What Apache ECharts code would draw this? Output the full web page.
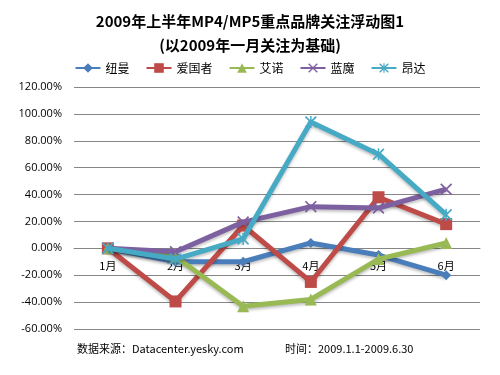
<!DOCTYPE html>
<html>
<head>
<meta charset="utf-8">
<script src="https://cdn.jsdelivr.net/npm/echarts@6/dist/echarts.min.js"></script>
<style>
  html, body { margin: 0; padding: 0; background: #fff; }
  #chart { width: 500px; height: 375px; }
</style>
</head>
<body>
<div id="chart"></div>
<script>
var months = ['1月', '2月', '3月', '4月', '5月', '6月'];
var brands = ['纽曼', '爱国者', '艾诺', '蓝魔', '昂达'];
var newman = [0, -10, -10, 4, -5, -20];
var aigo = [0, -39.5, 17, -25, 38, 18];
var aino = [0, -6, -43, -38, -8, 4];
var ramos = [0, -2.5, 19.5, 31, 30, 44];
var onda = [0, -8, 7, 94, 70, 25];
var colors = ['#4A7EBB', '#BE4B48', '#98B954', '#7D60A0', '#46AAC5'];

var xPath = 'path://M0,1 L1,0 L5,4 L9,0 L10,1 L6,5 L10,9 L9,10 L5,6 L1,10 L0,9 L4,5 Z';
var starPath = 'path://M0,1 L1,0 L5,4 L9,0 L10,1 L6,5 L10,9 L9,10 L5,6 L1,10 L0,9 L4,5 Z M4.4,0 L5.6,0 L5.6,10 L4.4,10 Z';
var symbols = ['diamond', 'rect', 'triangle', xPath, starPath];
var sizes = [10, 12, 12, 12, 12];
var allData = [newman, aigo, aino, ramos, onda];

var gridTop = 87, gridBottom = 46, chartH = 375;
var yMin = -60, yMax = 120;
// move the category axis up to the zero line
var zeroOffset = -(chartH - gridTop - gridBottom) * (0 - yMin) / (yMax - yMin);

var myChart = echarts.init(document.getElementById('chart'));

var series = brands.map(function (name, i) {
    return {
        name: name,
        type: 'line',
        data: allData[i],
        symbol: symbols[i],
        symbolSize: sizes[i],
        showAllSymbol: true,
        lineStyle: { width: 5, color: colors[i], shadowColor: 'rgba(0,0,0,0.25)', shadowBlur: 3, shadowOffsetY: 2 },
        itemStyle: { color: colors[i] },
        z: 2 + i
    };
});

option = {
    animation: false,
    color: colors,
    title: {
        text: '2009年上半年MP4/MP5重点品牌关注浮动图1\n(以2009年一月关注为基础)',
        left: 'center',
        top: 4,
        textStyle: {
            fontFamily: 'Noto Sans CJK SC',
            fontWeight: 'bold',
            fontSize: 15,
            lineHeight: 24,
            color: '#000'
        }
    },
    legend: {
        data: brands,
        top: 57,
        left: 'center',
        itemWidth: 25,
        itemHeight: 12,
        itemGap: 16,
        textStyle: { fontFamily: 'Noto Sans CJK SC', fontSize: 12, color: '#000' }
    },
    grid: { left: 74, right: 20, top: gridTop, bottom: gridBottom },
    xAxis: {
        type: 'category',
        data: months,
        boundaryGap: true,
        position: 'bottom',
        offset: zeroOffset,
        axisLine: { onZero: false, lineStyle: { color: '#868686' } },
        axisTick: { show: false },
        axisLabel: { color: '#000', fontSize: 11, fontFamily: 'Noto Sans CJK SC', margin: 12 }
    },
    yAxis: {
        type: 'value',
        min: yMin,
        max: yMax,
        interval: 20,
        axisLine: { show: false },
        axisTick: { show: false },
        splitLine: { lineStyle: { color: '#868686', width: 1 } },
        axisLabel: {
            color: '#000',
            fontSize: 11,
            fontFamily: 'Open Sans',
            margin: 12,
            formatter: function (v) { return v.toFixed(2) + '%'; }
        }
    },
    graphic: [
        { type: 'text', left: 77, top: 343, style: { text: '数据来源：Datacenter.yesky.com', fontSize: 11, fontFamily: 'Noto Sans CJK SC', fill: '#000' } },
        { type: 'text', left: 285, top: 343, style: { text: '时间：2009.1.1-2009.6.30', fontSize: 11, fontFamily: 'Noto Sans CJK SC', fill: '#000' } }
    ],
    series: series
};

myChart.setOption(option, true);
</script>
</body>
</html>
